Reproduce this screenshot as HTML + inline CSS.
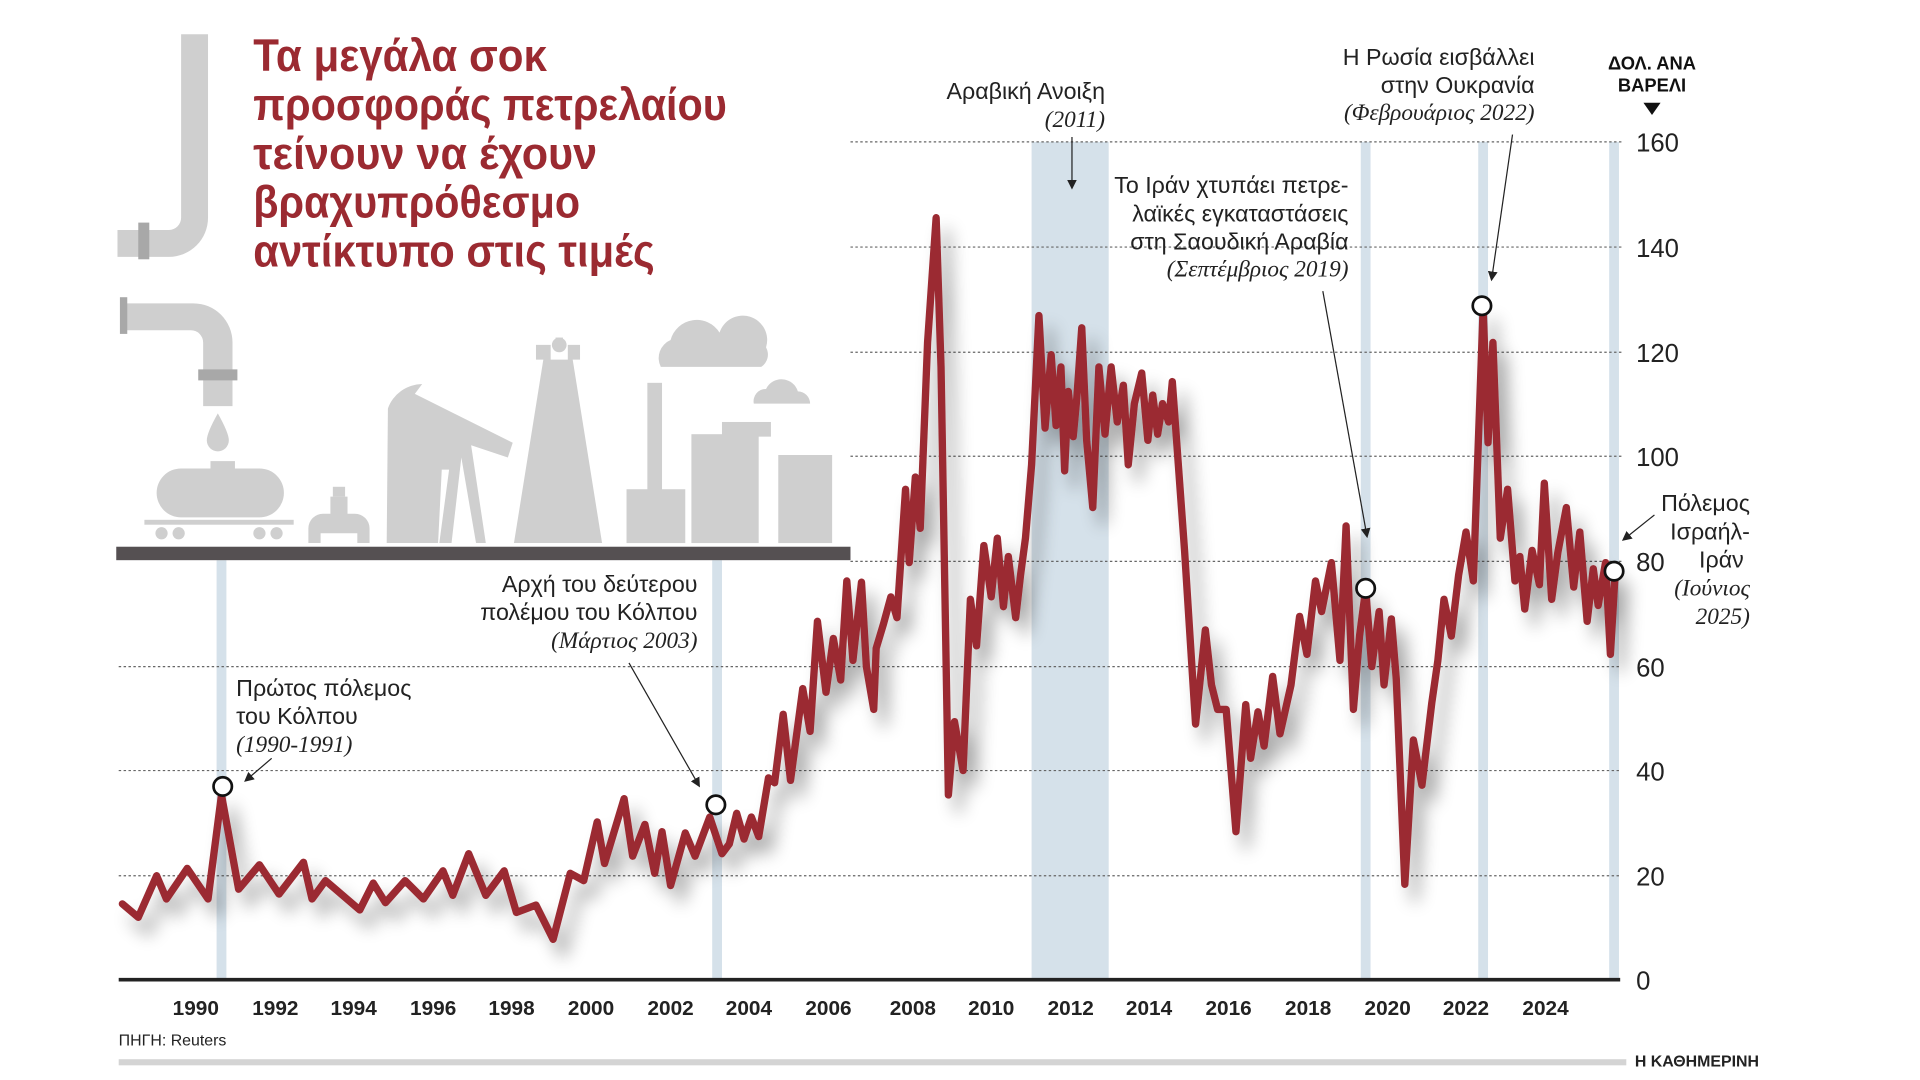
<!DOCTYPE html>
<html><head><meta charset="utf-8"><style>
html,body{margin:0;padding:0;background:#fff;width:1920px;height:1080px;overflow:hidden}
svg{display:block}
.n{font-family:"Liberation Sans Narrow","Liberation Sans",sans-serif}
.s{font-family:"Liberation Serif",serif;font-style:italic}
</style></head><body>
<svg width="1920" height="1080" viewBox="0 0 1569 883" preserveAspectRatio="none" xmlns="http://www.w3.org/2000/svg">
<defs>
<filter id="sh" x="-10%" y="-10%" width="130%" height="130%">
<feGaussianBlur in="SourceAlpha" stdDeviation="7"/>
<feOffset dx="8" dy="12"/>
<feComponentTransfer><feFuncA type="linear" slope="0.35"/></feComponentTransfer>
<feMerge><feMergeNode/><feMergeNode in="SourceGraphic"/></feMerge>
</filter>
<marker id="ar" markerWidth="8" markerHeight="8" refX="6" refY="4" orient="auto"><path d="M0,0 L8,4 L0,8 z" fill="#222"/></marker>
</defs>
<g fill="#d5e1ea">
<rect x="177" y="458" width="8" height="343"/>
<rect x="582" y="458" width="8" height="343"/>
<rect x="843" y="116" width="63" height="685"/>
<rect x="1112" y="116" width="8" height="685"/>
<rect x="1208" y="116" width="8" height="685"/>
<rect x="1315" y="116" width="8" height="685"/>
</g>
<g stroke="#666" stroke-width="1" stroke-dasharray="2,2">
<line x1="695" y1="116" x2="1325" y2="116"/>
<line x1="695" y1="202" x2="1325" y2="202"/>
<line x1="695" y1="288" x2="1325" y2="288"/>
<line x1="695" y1="373" x2="1325" y2="373"/>
<line x1="695" y1="459" x2="1325" y2="459"/>
<line x1="97" y1="545" x2="1325" y2="545"/>
<line x1="97" y1="630" x2="1325" y2="630"/>
<line x1="97" y1="716" x2="1325" y2="716"/>
</g>
<line x1="97" y1="801" x2="1324" y2="801" stroke="#222" stroke-width="3"/>
<g fill="#cfcfcf">
<path d="M148,28 h22 v150 a32,32 0 0 1 -32,32 h-42 v-22 h42 a10,10 0 0 0 10,-10 z"/>
<rect x="113" y="182" width="9" height="30" fill="#a8a8a8"/>
<path d="M100,248 h58 a32,32 0 0 1 32,32 v52 h-24 v-52 a10,10 0 0 0 -10,-10 h-56 z"/>
<rect x="98" y="243" width="6" height="30" fill="#a8a8a8"/>
<rect x="162" y="302" width="32" height="9" fill="#a8a8a8"/>
<path d="M178,338 q-9,16 -9,22 a9,9 0 0 0 18,0 q0,-6 -9,-22z"/>
<rect x="128" y="383" width="104" height="40" rx="20"/>
<rect x="172" y="377" width="20" height="8"/>
<rect x="118" y="425" width="122" height="4"/>
<circle cx="132" cy="436" r="5"/><circle cx="146" cy="436" r="5"/><circle cx="212" cy="436" r="5"/><circle cx="226" cy="436" r="5"/>
<path d="M252,444 v-12 a12,12 0 0 1 12,-12 h6 v-14 h14 v14 h6 a12,12 0 0 1 12,12 v12 h-10 v-8 h-30 v8z"/>
<rect x="272" y="398" width="10" height="8"/>
<path d="M316,444 l1,-110 a30,30 0 0 1 28,-20 l-6,8 l80,40 l-4,12 l-30,-10 l12,80 h-8 l-12,-70 l-8,70 h-10 l8,-60 h-6 l-3,60 z"/>
<path d="M420,444 l24,-150 h-6 v-12 h36 v12 h-6 l24,150 z M450,294 h14 v-12 h-14 z"/>
<rect x="454" y="276" width="6" height="8"/><circle cx="457" cy="282" r="6"/>
<rect x="529" y="313" width="12" height="100"/>
<rect x="512" y="400" width="48" height="44"/>
<rect x="565" y="355" width="55" height="89"/>
<rect x="590" y="345" width="40" height="12"/>
<rect x="636" y="372" width="44" height="72"/>
<path d="M540,300 a16,16 0 0 1 8,-22 a22,22 0 0 1 40,-6 a16,16 0 0 1 38,12 a12,12 0 0 1 -4,16 z"/>
<path d="M616,330 a10,10 0 0 1 10,-12 a14,14 0 0 1 26,2 a10,10 0 0 1 10,10 z"/>
</g>
<rect x="95" y="447" width="600" height="11" fill="#555052"/>
<polyline filter="url(#sh)" fill="none" stroke="#9b2a31" stroke-width="6" stroke-linejoin="round" stroke-linecap="round" points="100,739 113,750 128,716 136,735 153,710 170,735 181,650 195,727 212,707 228,731 248,705 255,735 266,720 294,744 305,722 315,738 331,720 346,735 362,712 370,732 383,698 397,732 412,712 422,746 438,740 452,768 466,714 477,720 488,672 494,706 510,653 517,700 527,674 535,714 541,680 548,724 560,681 568,700 580,668 590,698 596,690 602,665 608,686 614,668 620,684 628,636 633,640 640,584 646,638 656,563 662,598 668,508 675,566 681,522 687,556 692,475 697,540 704,476 708,545 714,580 716,530 722,510 728,488 733,505 740,400 743,460 748,390 752,432 758,280 765,178 769,300 775,650 780,590 787,630 793,490 798,528 804,446 810,488 815,440 820,496 824,455 830,505 834,470 838,440 843,380 849,258 854,350 859,290 863,348 867,300 870,385 873,320 877,357 880,325 884,268 888,360 893,415 898,300 903,355 908,300 913,345 918,315 922,380 927,330 933,305 938,360 942,323 946,355 950,330 955,345 958,312 968,450 977,592 985,515 990,560 995,580 1002,580 1010,680 1018,576 1022,620 1028,582 1033,610 1040,553 1046,600 1055,560 1062,504 1068,535 1075,475 1080,500 1088,460 1095,540 1100,430 1106,580 1111,520 1116,482 1121,545 1127,500 1131,560 1137,506 1141,555 1148,723 1155,605 1162,642 1170,575 1175,540 1180,490 1186,520 1192,470 1198,435 1204,475 1212,252 1216,362 1220,280 1226,440 1232,400 1238,475 1242,455 1246,498 1252,450 1258,478 1262,395 1268,490 1273,452 1280,415 1286,480 1291,435 1297,508 1302,465 1306,495 1312,460 1316,535 1320,467"/>
<g fill="#fff" stroke="#111" stroke-width="2.2">
<circle cx="182" cy="643" r="7.5"/><circle cx="585" cy="658" r="7.5"/><circle cx="1116" cy="481" r="7.5"/><circle cx="1211" cy="250" r="7.5"/><circle cx="1319" cy="467" r="7.5"/>
</g>
<g stroke="#222" stroke-width="1" fill="none" marker-end="url(#ar)">
<line x1="222" y1="620" x2="201" y2="638"/>
<line x1="514" y1="542" x2="571" y2="642"/>
<line x1="876" y1="112" x2="876" y2="153"/>
<line x1="1081" y1="238" x2="1117" y2="438"/>
<line x1="1236" y1="110" x2="1219" y2="228"/>
<line x1="1352" y1="421" x2="1327" y2="441"/>
</g>
<g class="n" fill="#9b2a31" font-weight="bold" font-size="37">
<text x="207" y="58" textLength="240" lengthAdjust="spacingAndGlyphs">Τα μεγάλα σοκ</text>
<text x="207" y="98" textLength="387" lengthAdjust="spacingAndGlyphs">προσφοράς πετρελαίου</text>
<text x="207" y="138" textLength="281" lengthAdjust="spacingAndGlyphs">τείνουν να έχουν</text>
<text x="207" y="178" textLength="267" lengthAdjust="spacingAndGlyphs">βραχυπρόθεσμο</text>
<text x="207" y="218" textLength="328" lengthAdjust="spacingAndGlyphs">αντίκτυπο στις τιμές</text>
</g>
<g class="n" fill="#222" font-size="19">
<text x="903" y="81" text-anchor="end">Αραβική Ανοιξη</text>
<text x="1254" y="53" text-anchor="end">Η Ρωσία εισβάλλει</text>
<text x="1254" y="76" text-anchor="end">στην Ουκρανία</text>
<text x="1102" y="158" text-anchor="end">Το Ιράν χτυπάει πετρε-</text>
<text x="1102" y="181" text-anchor="end">λαϊκές εγκαταστάσεις</text>
<text x="1102" y="204" text-anchor="end">στη Σαουδική Αραβία</text>
<text x="570" y="484" text-anchor="end">Αρχή του δεύτερου</text>
<text x="570" y="507" text-anchor="end">πολέμου του Κόλπου</text>
<text x="193" y="569">Πρώτος πόλεμος</text>
<text x="193" y="592">του Κόλπου</text>
<text x="1430" y="418" text-anchor="end">Πόλεμος</text>
<text x="1430" y="441" text-anchor="end">Ισραήλ-</text>
<text x="1425" y="464" text-anchor="end">Ιράν</text>
</g>
<g class="s" fill="#222" font-size="19">
<text x="903" y="104" text-anchor="end">(2011)</text>
<text x="1254" y="98" text-anchor="end">(Φεβρουάριος 2022)</text>
<text x="1102" y="226" text-anchor="end">(Σεπτέμβριος 2019)</text>
<text x="570" y="530" text-anchor="end">(Μάρτιος 2003)</text>
<text x="193" y="615">(1990-1991)</text>
<text x="1430" y="487" text-anchor="end">(Ιούνιος</text>
<text x="1430" y="510" text-anchor="end">2025)</text>
</g>
<g class="n" fill="#222" font-size="21">
<text x="1337" y="124">160</text><text x="1337" y="210">140</text><text x="1337" y="296">120</text><text x="1337" y="381">100</text>
<text x="1337" y="467">80</text><text x="1337" y="553">60</text><text x="1337" y="638">40</text><text x="1337" y="724">20</text><text x="1337" y="809">0</text>
</g>
<g class="n" fill="#111" font-size="15" font-weight="bold" text-anchor="middle">
<text x="1350" y="57">ΔΟΛ. ΑΝΑ</text><text x="1350" y="75">ΒΑΡΕΛΙ</text>
</g>
<path d="M1343,84 h14 l-7,10z" fill="#111"/>
<g class="n" fill="#222" font-size="17" font-weight="bold" text-anchor="middle">
<text x="160" y="830">1990</text><text x="225" y="830">1992</text><text x="289" y="830">1994</text><text x="354" y="830">1996</text>
<text x="418" y="830">1998</text><text x="483" y="830">2000</text><text x="548" y="830">2002</text><text x="612" y="830">2004</text>
<text x="677" y="830">2006</text><text x="746" y="830">2008</text><text x="810" y="830">2010</text><text x="875" y="830">2012</text>
<text x="939" y="830">2014</text><text x="1004" y="830">2016</text><text x="1069" y="830">2018</text><text x="1134" y="830">2020</text>
<text x="1198" y="830">2022</text><text x="1263" y="830">2024</text>
</g>
<text class="n" x="97" y="855" font-size="13" fill="#222">ΠΗΓΗ: Reuters</text>
<rect x="97" y="866" width="1232" height="5" fill="#d4d4d4"/>
<text class="n" x="1336" y="872" font-size="13" fill="#222" font-weight="bold">Η ΚΑΘΗΜΕΡΙΝΗ</text>
</svg>
</body></html>
